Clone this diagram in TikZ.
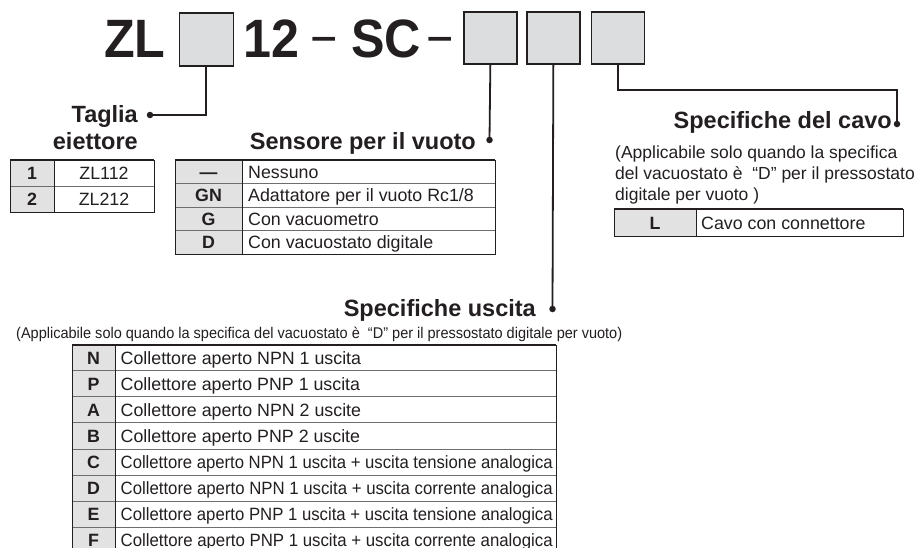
\documentclass[tikz,border=0pt]{standalone}
\usepackage{fontspec}
\setmainfont{Liberation Sans}
\usepackage{graphicx}
\definecolor{ink}{HTML}{231F20}
\definecolor{boxgray}{HTML}{DCDDDE}
\definecolor{cellgray}{HTML}{E2E2E3}
\definecolor{rulegray}{HTML}{6E6E6E}
\tikzset{
  code/.style={font=\fontsize{17.8}{20}\selectfont\bfseries, text=ink, inner sep=0pt, anchor=base},
  desc/.style={font=\fontsize{17.8}{20}\selectfont, text=ink, inner sep=0pt, anchor=base west},
  descc/.style={font=\fontsize{17.8}{20}\selectfont, text=ink, inner sep=0pt, anchor=base},
  head/.style={font=\fontsize{23.5}{26}\selectfont\bfseries, text=ink, inner sep=0pt, anchor=base east},
  note/.style={font=\fontsize{17.5}{21}\selectfont, text=ink, inner sep=0pt, anchor=base west},
  ttl/.style={font=\fontsize{54}{60}\selectfont\bfseries, text=ink, inner sep=0pt, anchor=base west},
  dashtxt/.style={font=\fontsize{38}{40}\selectfont\bfseries, text=ink, inner sep=0pt, anchor=base west},
  pbox/.style={draw=ink, fill=boxgray, line width=1.7pt, minimum width=53pt, minimum height=52pt, inner sep=0pt, anchor=north west},
  conn/.style={draw=ink, line width=1.8pt},
  dotc/.style={circle, fill=ink, inner sep=0pt, minimum size=6.5pt},
  sep/.style={draw=rulegray, line width=0.8pt},
  frame/.style={draw=ink, line width=1pt},
  topline/.style={draw=ink, line width=2pt},
}
\begin{document}
\begin{tikzpicture}[x=1pt,y=-1pt]
\useasboundingbox (0,0) rectangle (918,547);
\clip (0,0) rectangle (918,547);
\fill[white] (0,0) rectangle (918,547);

% ---------- title ----------
\node[ttl] (tZL) at (104,57) {\scalebox{0.93}[1]{ZL}};
\node[pbox, minimum width=54pt, minimum height=53pt] (b1) at (178.5,12) {};
\node[ttl] (t12) at (243,57) {\scalebox{0.93}[1]{12}};
\node[dashtxt] (dA) at (311,49) {\scalebox{1.2}[1]{–}};
\node[ttl] (tSC) at (351,57) {\scalebox{0.93}[1]{SC}};
\node[dashtxt] (dB) at (427,49) {\scalebox{1.2}[1]{–}};
\node[pbox] (b2) at (463,11) {};
\node[pbox] (b3) at (526,11) {};
\node[pbox] (b4) at (590.5,11) {};

% ---------- Taglia eiettore ----------
\node[head] (hT1) at (138,122) {Taglia};
\node[head] (hT2) at (138,149) {eiettore};
\node[dotc] (d1) at (150,115) {};
\draw[conn] (b1.south) |- (d1.center);

\fill[cellgray] (10,160) rectangle (54,212);
\draw[sep] (10,186) -- (154,186);
\draw[frame] (54,160) -- (54,212);
\draw[frame] (10,160) rectangle (154,212);
\draw[topline] (10,160) -- (154,160);
\node[code] (t1c1) at (32,179) {1};
\node[descc] (t1d1) at (104,179) {ZL112};
\node[code] (t1c2) at (32,205) {2};
\node[descc] (t1d2) at (104,205) {ZL212};

% ---------- Sensore per il vuoto ----------
\node[head] (hS) at (476,149) {Sensore per il vuoto};
\node[dotc] (d2) at (489.5,140) {};
\draw[conn] (b2.south) -- (d2.center);

\fill[cellgray] (175,160) rectangle (242,254);
\foreach \yy in {183.5,207,230.5} \draw[sep] (175,\yy) -- (495,\yy);
\draw[frame] (242,160) -- (242,254);
\draw[frame] (175,160) rectangle (495,254);
\draw[topline] (175,160) -- (495,160);
\node[code] (t2c1) at (208.5,178) {—};
\node[desc] (t2d1) at (248,178) {Nessuno};
\node[code] (t2c2) at (208.5,201.5) {GN};
\node[desc] (t2d2) at (248,201.5) {Adattatore per il vuoto Rc1/8};
\node[code] (t2c3) at (208.5,225) {G};
\node[desc] (t2d3) at (248,225) {Con vacuometro};
\node[code] (t2c4) at (208.5,248.5) {D};
\node[desc] (t2d4) at (248,248.5) {Con vacuostato digitale};

% ---------- Specifiche del cavo ----------
\node[head] (hC) at (892,128) {Specifiche del cavo};
\node[dotc] (d4) at (897,124) {};
\coordinate (c4) at (897,90);
\draw[conn] (b4.south) |- (c4) -- (d4.center);
\node[note] (nC1) at (615,158) {(Applicabile solo quando la specifica};
\node[note] (nC2) at (615,179) {del vacuostato è \ “D” per il pressostato};
\node[note] (nC3) at (615,200) {digitale per vuoto )};

\fill[cellgray] (614,209) rectangle (696,236);
\draw[frame] (696,209) -- (696,236);
\draw[frame] (614,209) rectangle (903,236);
\draw[topline] (614,209) -- (903,209);
\node[code] (t4c1) at (655,229) {L};
\node[desc] (t4d1) at (701,229) {Cavo con connettore};

% ---------- Specifiche uscita ----------
\node[head] (hU) at (536,316) {Specifiche uscita};
\node[dotc] (d3) at (552.5,309) {};
\draw[conn] (b3.south) -- (d3.center);
\node[note, font=\fontsize{15.5}{18}\selectfont] (nU) at (16,338) {\resizebox{606pt}{\height}{(Applicabile solo quando la specifica del vacuostato è \ “D” per il pressostato digitale per vuoto)}};

\fill[cellgray] (72,344.5) rectangle (115,560);
\foreach \yy in {370.6,396.7,422.8,448.9,475,501.1,527.2} \draw[sep] (72,\yy) -- (556,\yy);
\draw[frame] (115,344.5) -- (115,560);
\draw[frame] (72,344.5) -- (72,560);
\draw[frame] (556,344.5) -- (556,560);
\draw[topline] (72,344.5) -- (556,344.5);
\node[code] (u1) at (93.5,364) {N};
\node[desc] (v1) at (120.5,364) {Collettore aperto NPN 1 uscita};
\node[code] (u2) at (93.5,390.1) {P};
\node[desc] (v2) at (120.5,390.1) {Collettore aperto PNP 1 uscita};
\node[code] (u3) at (93.5,416.2) {A};
\node[desc] (v3) at (120.5,416.2) {Collettore aperto NPN 2 uscite};
\node[code] (u4) at (93.5,442.3) {B};
\node[desc] (v4) at (120.5,442.3) {Collettore aperto PNP 2 uscite};
\node[code] (u5) at (93.5,468.4) {C};
\node[desc] (v5) at (120.5,468.4) {\resizebox{432pt}{\height}{Collettore aperto NPN 1 uscita + uscita tensione analogica}};
\node[code] (u6) at (93.5,494.5) {D};
\node[desc] (v6) at (120.5,494.5) {\resizebox{432pt}{\height}{Collettore aperto NPN 1 uscita + uscita corrente analogica}};
\node[code] (u7) at (93.5,520.6) {E};
\node[desc] (v7) at (120.5,520.6) {\resizebox{432pt}{\height}{Collettore aperto PNP 1 uscita + uscita tensione analogica}};
\node[code] (u8) at (93.5,546.7) {F};
\node[desc] (v8) at (120.5,546.7) {\resizebox{432pt}{\height}{Collettore aperto PNP 1 uscita + uscita corrente analogica}};
\end{tikzpicture}
\end{document}
